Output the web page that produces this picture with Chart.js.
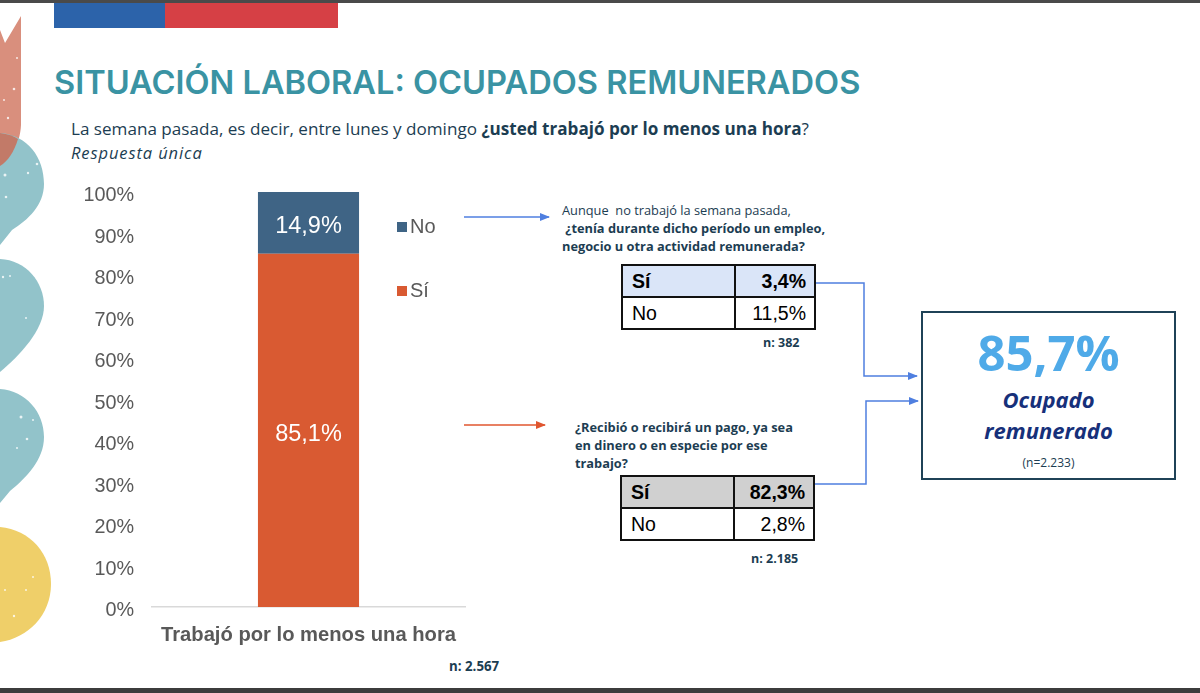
<!DOCTYPE html>
<html lang="es">
<head>
  <meta charset="UTF-8" />
  <title>Situación laboral: ocupados remunerados</title>
  <script src="https://cdn.jsdelivr.net/npm/chart.js"></script>
  <style>
    html, body { margin: 0; padding: 0; background: #fff; }
    body { width: 1200px; height: 693px; overflow: hidden; position: relative; font-family: 'Open Sans', sans-serif; color: #1c3d52; }
    .abs { position: absolute; white-space: nowrap; }
    #deco { position: absolute; left: 0; top: 0; }
    #chart-box { position: absolute; left: 0; top: 162px; width: 480px; height: 488px; }
    #title { left: 54px; top: 62px; font: 600 32.6px 'Inter', sans-serif; color: #3a93a3; }
    #question { left: 71px; top: 117px; font-size: 17.1px; color: #1c3d52; }
    #single { left: 71px; top: 141px; font-size: 16.5px; font-style: italic; letter-spacing: .9px; }
    .legend { font: 20px 'Liberation Sans', sans-serif; color: #595959; display: flex; align-items: center; }
    .legend i { display: inline-block; width: 10px; height: 10px; margin-right: 3px; }
    .q { font-size: 12.8px; line-height: 18px; }
    .n { font-size: 12.5px; font-weight: 700; }
    table { position: absolute; border-collapse: collapse; font: 19.5px 'Liberation Sans', sans-serif; color: #000; }
    td { border: 2px solid #111; padding: 0 8px 0 9px; height: 30px; }
    td + td { text-align: right; }
    .first td { font-weight: 700; }
    #result { position: absolute; left: 921px; top: 311px; width: 251px; height: 165px; border: 2.5px solid #1f4257; text-align: center; }
    #result .pct { position: absolute; left: 0; right: 0; top: 6px; font-size: 49px; font-weight: 700; color: #4faae8; }
    #result .lab { position: absolute; left: 0; right: 0; top: 71px; font-size: 22px; line-height: 31px; font-weight: 700; font-style: italic; color: #16307a; }
    #result .cnt { position: absolute; left: 0; right: 0; top: 141px; font-size: 12px; color: #1c3d52; }
  </style>
</head>
<body>
  <svg id="deco" width="1200" height="693">
    <defs>
      <marker id="ab" markerWidth="10" markerHeight="8" refX="9" refY="4" orient="auto" markerUnits="userSpaceOnUse"><path d="M0 0L10 4L0 8z" fill="#4f7fe0"/></marker>
      <marker id="ar" markerWidth="10" markerHeight="8" refX="9" refY="4" orient="auto" markerUnits="userSpaceOnUse"><path d="M0 0L10 4L0 8z" fill="#e0562f"/></marker>
    </defs>
    <!-- manchas laterales -->
    <path d="M0 30L5 43L21 16L21 125C20 145 10 160 0 166z" fill="#d98f7d"/>
    <path d="M0 133C28 135 44 158 44 184C44 205 28 220 12 230L0 245z" fill="#92c3ca"/>
    <path d="M0 133C8 134 14 136 18 139C14 152 8 161 0 166z" fill="#c27a68"/>
    <path d="M0 259C26 260 44 282 44 306C44 330 20 355 0 372z" fill="#92c3ca"/>
    <path d="M0 389C26 391 44 412 44 437C44 460 26 478 10 491L0 503z" fill="#92c3ca"/>
    <path d="M0 527C30 530 51 553 51 584C51 615 28 638 0 642z" fill="#efcf69"/>
    <g fill="#fff" opacity=".8">
      <circle cx="14" cy="89" r="1.3"/><circle cx="17" cy="58" r="1"/><circle cx="8" cy="118" r="1.2"/><circle cx="4" cy="100" r="1"/>
      <circle cx="5" cy="175" r="1.5"/><circle cx="6" cy="197" r="1.3"/><circle cx="28" cy="173" r="1.2"/><circle cx="37" cy="164" r="1.3"/>
      <circle cx="3" cy="277" r="1.2"/><circle cx="10" cy="276" r="1"/><circle cx="26" cy="318" r="1"/>
      <circle cx="21" cy="417" r="1.5"/><circle cx="27" cy="439" r="1.3"/><circle cx="17" cy="448" r="1"/><circle cx="33" cy="420" r="1"/>
      <circle cx="5" cy="590" r="1"/><circle cx="14" cy="616" r="1.2"/><circle cx="26" cy="590" r="1"/><circle cx="33" cy="577" r="1"/>
    </g>
    <!-- barras superior e inferior -->
    <rect x="0" y="0" width="1200" height="3" fill="#4a4a4a"/>
    <rect x="0" y="688" width="1200" height="5" fill="#3c3c3c"/>
    <rect x="54" y="3" width="111" height="25" fill="#2c63aa"/>
    <rect x="165" y="3" width="173" height="25" fill="#d64045"/>
    <!-- flechas -->
    <path d="M464 217H549" stroke="#4f7fe0" stroke-width="1.5" fill="none" marker-end="url(#ab)"/>
    <path d="M464 425H545" stroke="#e0562f" stroke-width="1.5" fill="none" marker-end="url(#ar)"/>
    <path d="M811 283H864V376H917" stroke="#4f7fe0" stroke-width="1.5" fill="none" marker-end="url(#ab)"/>
    <path d="M813 484H866V401H918" stroke="#4f7fe0" stroke-width="1.5" fill="none" marker-end="url(#ab)"/>
  </svg>

  <div class="abs" id="title">SITUACIÓN LABORAL: OCUPADOS REMUNERADOS</div>
  <div class="abs" id="question">La semana pasada, es decir, entre lunes y domingo <b>¿usted trabajó por lo menos una hora</b>?</div>
  <div class="abs" id="single">Respuesta única</div>

  <div id="chart-box"><canvas id="chart" width="480" height="488"></canvas></div>

  <div class="abs legend" id="leg-no" style="left:397px;top:215px"></div>
  <div class="abs legend" id="leg-si" style="left:397px;top:279px"></div>

  <div class="abs q" style="left:562px;top:201px">Aunque&nbsp; no trabajó la semana pasada,<br><b>&nbsp;¿tenía durante dicho período un empleo,<br>negocio u otra actividad remunerada?</b></div>
  <table id="t1" style="left:621px;top:264px"></table>
  <div class="abs n" style="left:763px;top:334px">n: 382</div>

  <div class="abs q" style="left:575px;top:418px;font-weight:700">¿Recibió o recibirá un pago, ya sea<br>en dinero o en especie por ese<br>trabajo?</div>
  <table id="t2" style="left:620px;top:475px"></table>
  <div class="abs n" style="left:751px;top:550px">n: 2.185</div>

  <div class="abs n" style="left:449px;top:657px;font-size:13.3px">n: 2.567</div>

  <div id="result">
    <div class="pct">85,7%</div>
    <div class="lab">Ocupado<br>remunerado</div>
    <div class="cnt">(n=2.233)</div>
  </div>

<script>
  const categories = ['Trabajó por lo menos una hora'];
  const siValues = [85.1];
  const noValues = [14.9];
  const SI_COLOR = '#d95a32';
  const NO_COLOR = '#3f6485';

  // tablas de la derecha
  const table1Labels = ['Sí', 'No'];
  const table1Values = ['3,4%', '11,5%'];
  const table2Labels = ['Sí', 'No'];
  const table2Values = ['82,3%', '2,8%'];

  function fillTable(id, labels, values, bg, w1, w2) {
    const t = document.getElementById(id);
    labels.forEach((lab, i) => {
      const tr = document.createElement('tr');
      if (i === 0) { tr.className = 'first'; tr.style.background = bg; }
      tr.innerHTML = `<td style="width:${w1}px">${lab}</td><td style="width:${w2}px">${values[i]}</td>`;
      t.appendChild(tr);
    });
  }
  fillTable('t1', table1Labels, table1Values, '#dae5f8', 94, 61);
  fillTable('t2', table2Labels, table2Values, '#d0d0d0', 94, 61);

  function setLegend(id, color, text) {
    document.getElementById(id).innerHTML = `<i style="background:${color}"></i>${text}`;
  }
  setLegend('leg-no', NO_COLOR, 'No');
  setLegend('leg-si', SI_COLOR, 'Sí');

  // etiquetas blancas dentro de cada tramo
  const barLabels = {
    id: 'barLabels',
    afterDatasetsDraw(chart) {
      const ctx = chart.ctx;
      ctx.save();
      ctx.fillStyle = '#fff';
      ctx.font = '23.5px "Liberation Sans", sans-serif';
      ctx.textAlign = 'center';
      ctx.textBaseline = 'middle';
      chart.data.datasets.forEach((ds, i) => {
        chart.getDatasetMeta(i).data.forEach((bar, j) => {
          const p = bar.getCenterPoint();
          ctx.fillText(ds.data[j].toFixed(1).replace('.', ',') + '%', p.x, p.y + 4);
        });
      });
      ctx.restore();
    }
  };

  new Chart(document.getElementById('chart'), {
    type: 'bar',
    data: {
      labels: categories,
      datasets: [
        { label: 'Sí', data: siValues, backgroundColor: SI_COLOR },
        { label: 'No', data: noValues, backgroundColor: NO_COLOR }
      ]
    },
    options: {
      responsive: false,
      animation: false,
      barPercentage: 0.323,
      categoryPercentage: 1,
      layout: { autoPadding: false, padding: { top: 30, right: 15, left: 0, bottom: 0 } },
      plugins: { legend: { display: false }, tooltip: { enabled: false } },
      scales: {
        x: {
          stacked: true,
          afterFit: s => { s.height = 43; },
          grid: { display: false },
          border: { color: '#d9d9d9', width: 1.5 },
          ticks: { color: '#595959', padding: 8, font: { family: 'Liberation Sans', size: 20.2, weight: 'bold' } }
        },
        y: {
          stacked: true,
          min: 0,
          max: 100,
          afterFit: s => { s.width = 152; },
          grid: { display: false, drawTicks: false },
          border: { display: false },
          ticks: {
            stepSize: 10,
            color: '#595959',
            padding: 18,
            labelOffset: 4,
            font: { family: 'Liberation Sans', size: 19.8 },
            callback: v => v + '%'
          }
        }
      }
    },
    plugins: [barLabels]
  });
</script>
</body>
</html>
